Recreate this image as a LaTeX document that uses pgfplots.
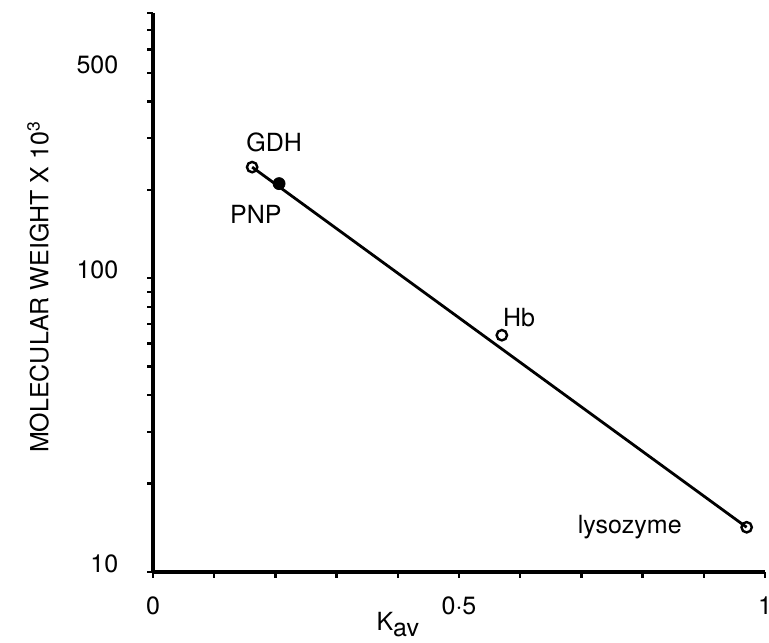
\documentclass[border=0pt]{standalone}
\usepackage{fontspec}
\setmainfont{TeX Gyre Heros}
\usepackage{pgfplots}
\pgfplotsset{compat=1.18}
\begin{document}
\fontsize{12.5}{15}\selectfont
\begin{tikzpicture}[x=1pt,y=1pt,font=\fontsize{12.5}{15}\selectfont]
\useasboundingbox (0,0) rectangle (384.5,321);
\begin{axis}[
  at={(76.5pt,35pt)}, anchor=south west,
  scale only axis, width=306pt, height=279.5pt,
  xmin=0, xmax=1, ymode=log, ymin=10, ymax=800,
  clip=false,
  axis lines=left,
  axis line style={line width=1.8pt,-},
  xtick={0,0.5,1}, xticklabels={0,0·5,1},
  minor xtick={0.1,0.2,0.3,0.4,0.6,0.7,0.8,0.9},
  ytick={10,100,500}, yticklabels={10,100,500},
  minor ytick={20,30,40,50,60,70,80,90,200,300,400,600,700,800},
  tick align=outside,
  major tick length=3pt, minor tick length=3pt,
  every tick/.style={line width=1.2pt,black},
  xticklabel style={yshift=-5pt},
  yticklabel style={anchor=east,xshift=-10pt,yshift=4pt},
  xlabel={K\raisebox{-3pt}{av}},
  xlabel style={at={(axis description cs:0.40,0)}, anchor=center, yshift=-26.5pt},
  ylabel={MOLECULAR WEIGHT X 10\textsuperscript{3}},
  ylabel style={at={(axis description cs:-0.188,0.51)}, anchor=center},
]
\addplot[no marks, line width=1.4pt] coordinates {(0.162,239) (0.97,14.2)};
\addplot[only marks, mark=o, mark size=2.6pt, mark options={line width=1.2pt}, fill=white]
  coordinates {(0.162,239) (0.570,64) (0.97,14.2)};
\addplot[only marks, mark=*, mark size=3pt, black] coordinates {(0.206,210)};
\node at (axis cs:0.198,290) {GDH};
\node at (axis cs:0.168,165) {PNP};
\node at (axis cs:0.598,73.6) {Hb};
\node at (axis cs:0.779,14.2) {lysozyme};
\end{axis}
\end{tikzpicture}
\end{document}
